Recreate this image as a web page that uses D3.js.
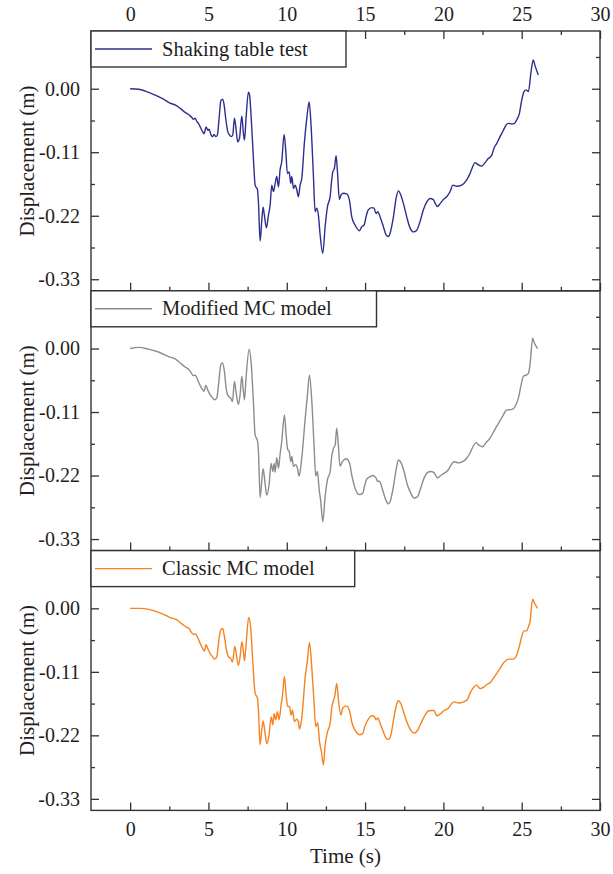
<!DOCTYPE html>
<html>
<head>
<meta charset="utf-8">
<script src="https://cdn.jsdelivr.net/npm/d3@7"></script>
<style>
  html, body { margin: 0; padding: 0; background: #fff; }
  svg { display: block; }
  text { font-family: "Liberation Serif", "DejaVu Serif", serif; fill: #1f1d1e; }
</style>
</head>
<body>
<svg id="chart" width="613" height="874"></svg>
<script>
// ---- data: displacement (m) against time (s) ----
const shakingT = [0, 0.53, 0.96, 1.6, 2.13, 2.55, 2.87, 3.19, 3.51, 3.83, 3.94, 4.04, 4.15, 4.26, 4.36, 4.47, 4.62, 4.72, 4.85, 4.96, 5.04, 5.15, 5.26, 5.36, 5.47, 5.57, 5.68, 5.79, 5.91, 6.0, 6.1, 6.23, 6.34, 6.45, 6.55, 6.66, 6.77, 6.87, 6.98, 7.13, 7.23, 7.3, 7.4, 7.55, 7.62, 7.72, 7.87, 7.98, 8.13, 8.19, 8.3, 8.4, 8.49, 8.57, 8.7, 8.83, 8.94, 9.04, 9.15, 9.26, 9.36, 9.47, 9.57, 9.68, 9.83, 9.94, 10.04, 10.15, 10.26, 10.32, 10.43, 10.53, 10.64, 10.74, 10.85, 10.96, 11.13, 11.28, 11.43, 11.55, 11.7, 11.81, 11.91, 12.02, 12.13, 12.3, 12.45, 12.6, 12.77, 12.87, 12.94, 13.04, 13.15, 13.23, 13.36, 13.47, 13.62, 13.83, 14.0, 14.15, 14.36, 14.64, 14.79, 14.94, 15.06, 15.2, 15.43, 15.57, 15.7, 15.81, 15.96, 16.17, 16.34, 16.49, 16.6, 16.81, 16.98, 17.13, 17.28, 17.45, 17.66, 17.87, 18.09, 18.3, 18.51, 18.72, 18.94, 19.15, 19.36, 19.47, 19.62, 19.79, 20.0, 20.21, 20.43, 20.6, 20.85, 21.17, 21.49, 21.7, 21.87, 22.02, 22.23, 22.45, 22.66, 22.87, 23.09, 23.23, 23.4, 23.62, 23.83, 24.0, 24.15, 24.36, 24.53, 24.68, 24.85, 25.0, 25.15, 25.28, 25.43, 25.6, 25.74, 25.85, 26.06];
const shakingV = [0, -0.001, -0.004, -0.011, -0.018, -0.025, -0.028, -0.034, -0.041, -0.047, -0.050, -0.053, -0.051, -0.057, -0.060, -0.066, -0.074, -0.078, -0.066, -0.072, -0.070, -0.079, -0.083, -0.079, -0.083, -0.080, -0.051, -0.021, -0.018, -0.028, -0.051, -0.074, -0.080, -0.083, -0.080, -0.051, -0.072, -0.092, -0.086, -0.047, -0.077, -0.089, -0.051, -0.006, -0.010, -0.046, -0.121, -0.167, -0.175, -0.196, -0.264, -0.230, -0.205, -0.219, -0.241, -0.219, -0.201, -0.167, -0.178, -0.164, -0.152, -0.170, -0.141, -0.126, -0.079, -0.109, -0.147, -0.144, -0.164, -0.152, -0.173, -0.167, -0.175, -0.187, -0.167, -0.155, -0.092, -0.051, -0.023, -0.063, -0.150, -0.213, -0.207, -0.219, -0.253, -0.285, -0.239, -0.204, -0.187, -0.158, -0.144, -0.138, -0.116, -0.141, -0.192, -0.184, -0.181, -0.182, -0.193, -0.222, -0.236, -0.246, -0.239, -0.236, -0.222, -0.210, -0.206, -0.207, -0.216, -0.213, -0.222, -0.239, -0.253, -0.256, -0.250, -0.222, -0.190, -0.177, -0.184, -0.199, -0.222, -0.241, -0.248, -0.245, -0.230, -0.210, -0.196, -0.190, -0.192, -0.198, -0.204, -0.199, -0.192, -0.187, -0.178, -0.167, -0.169, -0.167, -0.158, -0.147, -0.135, -0.128, -0.132, -0.134, -0.128, -0.121, -0.115, -0.103, -0.095, -0.083, -0.072, -0.063, -0.060, -0.061, -0.060, -0.054, -0.043, -0.020, -0.005, -0.002, -0.005, 0.030, 0.050, 0.040, 0.024];

const modifiedT = [0, 0.53, 1.17, 1.81, 2.45, 2.87, 3.19, 3.51, 3.77, 3.87, 4.04, 4.15, 4.26, 4.4, 4.57, 4.72, 4.83, 4.96, 5.1, 5.26, 5.38, 5.53, 5.64, 5.79, 5.89, 6.02, 6.13, 6.28, 6.43, 6.53, 6.66, 6.77, 6.91, 7.02, 7.13, 7.23, 7.3, 7.4, 7.6, 7.72, 7.87, 7.98, 8.13, 8.19, 8.3, 8.4, 8.49, 8.6, 8.72, 8.87, 9.0, 9.11, 9.19, 9.26, 9.36, 9.47, 9.57, 9.68, 9.85, 9.96, 10.06, 10.15, 10.26, 10.32, 10.43, 10.57, 10.68, 10.79, 10.91, 11.0, 11.17, 11.32, 11.45, 11.6, 11.74, 11.85, 11.96, 12.06, 12.17, 12.3, 12.45, 12.6, 12.77, 12.87, 12.98, 13.09, 13.19, 13.3, 13.4, 13.55, 13.79, 14.0, 14.17, 14.36, 14.64, 14.85, 14.96, 15.11, 15.32, 15.49, 15.7, 15.79, 15.91, 16.13, 16.32, 16.49, 16.6, 16.81, 16.98, 17.13, 17.3, 17.49, 17.7, 17.91, 18.13, 18.34, 18.55, 18.77, 18.98, 19.19, 19.4, 19.62, 19.83, 20.11, 20.32, 20.53, 20.68, 20.96, 21.23, 21.49, 21.7, 21.87, 22.09, 22.3, 22.51, 22.72, 22.98, 23.19, 23.4, 23.62, 23.83, 24.0, 24.21, 24.43, 24.64, 24.79, 24.94, 25.11, 25.28, 25.43, 25.53, 25.7, 25.8, 26.02];
const modifiedV = [0, 0.002, -0.001, -0.006, -0.014, -0.018, -0.025, -0.032, -0.037, -0.041, -0.047, -0.046, -0.051, -0.060, -0.069, -0.074, -0.064, -0.072, -0.080, -0.085, -0.089, -0.086, -0.063, -0.028, -0.025, -0.040, -0.069, -0.083, -0.086, -0.092, -0.057, -0.077, -0.097, -0.080, -0.048, -0.074, -0.089, -0.051, -0.001, -0.023, -0.092, -0.150, -0.160, -0.178, -0.258, -0.230, -0.208, -0.230, -0.254, -0.236, -0.199, -0.213, -0.199, -0.214, -0.189, -0.207, -0.184, -0.161, -0.115, -0.150, -0.175, -0.178, -0.196, -0.187, -0.204, -0.201, -0.207, -0.221, -0.201, -0.178, -0.123, -0.080, -0.046, -0.092, -0.167, -0.221, -0.213, -0.242, -0.265, -0.300, -0.256, -0.227, -0.213, -0.187, -0.173, -0.167, -0.138, -0.170, -0.204, -0.196, -0.191, -0.198, -0.222, -0.242, -0.253, -0.251, -0.239, -0.226, -0.222, -0.220, -0.224, -0.230, -0.230, -0.246, -0.262, -0.269, -0.265, -0.239, -0.210, -0.193, -0.198, -0.213, -0.236, -0.250, -0.259, -0.257, -0.242, -0.224, -0.215, -0.213, -0.215, -0.224, -0.220, -0.215, -0.210, -0.200, -0.196, -0.198, -0.196, -0.190, -0.181, -0.171, -0.163, -0.168, -0.170, -0.163, -0.155, -0.145, -0.135, -0.125, -0.115, -0.107, -0.106, -0.105, -0.097, -0.086, -0.066, -0.048, -0.046, -0.043, -0.028, 0.018, 0.010, 0.000];

const classicT = [0, 0.74, 1.38, 2.02, 2.55, 2.98, 3.3, 3.62, 3.77, 3.87, 4.04, 4.19, 4.32, 4.47, 4.62, 4.74, 4.85, 4.96, 5.1, 5.26, 5.38, 5.53, 5.64, 5.77, 5.91, 6.02, 6.13, 6.28, 6.43, 6.53, 6.68, 6.77, 6.91, 7.02, 7.13, 7.23, 7.3, 7.4, 7.57, 7.7, 7.83, 7.98, 8.13, 8.19, 8.3, 8.4, 8.49, 8.6, 8.72, 8.87, 9.0, 9.11, 9.19, 9.3, 9.4, 9.51, 9.64, 9.72, 9.85, 9.96, 10.06, 10.17, 10.28, 10.36, 10.49, 10.64, 10.74, 10.81, 10.91, 11.0, 11.17, 11.32, 11.45, 11.6, 11.74, 11.85, 11.98, 12.09, 12.21, 12.34, 12.45, 12.6, 12.77, 12.87, 12.98, 13.06, 13.19, 13.3, 13.45, 13.57, 13.79, 14.0, 14.17, 14.38, 14.64, 14.85, 14.98, 15.21, 15.43, 15.6, 15.7, 15.81, 15.96, 16.17, 16.34, 16.51, 16.64, 16.85, 16.98, 17.13, 17.3, 17.49, 17.7, 17.91, 18.13, 18.34, 18.55, 18.77, 18.98, 19.19, 19.4, 19.57, 19.79, 20.04, 20.32, 20.53, 20.68, 20.96, 21.28, 21.53, 21.7, 21.87, 22.13, 22.34, 22.55, 22.77, 22.98, 23.19, 23.4, 23.62, 23.83, 24.0, 24.21, 24.47, 24.68, 24.85, 25.0, 25.15, 25.32, 25.43, 25.53, 25.7, 25.8, 26.02];
const classicV = [0, 0, -0.003, -0.009, -0.016, -0.020, -0.027, -0.033, -0.035, -0.040, -0.045, -0.045, -0.051, -0.061, -0.069, -0.074, -0.063, -0.070, -0.078, -0.084, -0.088, -0.084, -0.061, -0.038, -0.035, -0.049, -0.069, -0.084, -0.087, -0.093, -0.066, -0.078, -0.099, -0.084, -0.058, -0.075, -0.091, -0.063, -0.016, -0.035, -0.092, -0.147, -0.156, -0.176, -0.236, -0.211, -0.195, -0.213, -0.234, -0.219, -0.188, -0.202, -0.182, -0.193, -0.179, -0.193, -0.167, -0.153, -0.118, -0.150, -0.170, -0.170, -0.185, -0.176, -0.196, -0.192, -0.196, -0.209, -0.199, -0.179, -0.121, -0.090, -0.059, -0.104, -0.162, -0.205, -0.198, -0.231, -0.248, -0.271, -0.237, -0.214, -0.199, -0.173, -0.159, -0.153, -0.130, -0.159, -0.185, -0.173, -0.169, -0.177, -0.199, -0.212, -0.219, -0.217, -0.205, -0.192, -0.186, -0.188, -0.193, -0.190, -0.199, -0.214, -0.225, -0.227, -0.220, -0.188, -0.170, -0.160, -0.166, -0.182, -0.199, -0.211, -0.216, -0.212, -0.200, -0.188, -0.179, -0.177, -0.177, -0.186, -0.183, -0.177, -0.173, -0.165, -0.162, -0.164, -0.162, -0.158, -0.147, -0.139, -0.133, -0.139, -0.137, -0.132, -0.129, -0.121, -0.113, -0.104, -0.095, -0.090, -0.088, -0.088, -0.081, -0.066, -0.049, -0.039, -0.039, -0.032, -0.023, 0.016, 0.010, 0.000];

const seriesNames = ["Shaking table test", "Modified MC model", "Classic MC model"];
const seriesColors = ["#2e2e8f", "#8c8c8c", "#f5831f"];
const xTicks = [0, 5, 10, 15, 20, 25, 30];
const xMinorTicks = [2.5, 7.5, 12.5, 17.5, 22.5, 27.5];
const yTicks = [0, -0.11, -0.22, -0.33];
const yMinorTicks = [0.055, -0.055, -0.165, -0.275];
const xTitle = "Time (s)";
const yTitle = "Displacement (m)";

// ---- layout ----
const svg = d3.select("#chart");
const plotLeft = 91, plotRight = 600, plotTop = 31, panelH = 259.8;
const FONT = 20;

const x = d3.scaleLinear().domain([-2.5, 30]).range([plotLeft, plotRight]);

const panels = [
  { t: shakingT, v: shakingV, legendW: 255 },
  { t: modifiedT, v: modifiedV, legendW: 285.5 },
  { t: classicT, v: classicV, legendW: 263.7 }
];

const fmt = d => (Math.abs(d) < 1e-9 ? 0 : d).toFixed(2);

panels.forEach((p, i) => {
  const y0 = plotTop + i * panelH;
  const y = d3.scaleLinear().domain([-0.35, 0.10]).range([y0 + panelH, y0]);
  const g = svg.append("g");

  // data line, smoothed between samples without overshooting the extrema
  const pts = p.t.map((t, k) => [t, p.v[k]]);
  g.append("path")
    .datum(pts)
    .attr("fill", "none")
    .attr("stroke", seriesColors[i])
    .attr("stroke-width", 1.4)
    .attr("stroke-linejoin", "round")
    .attr("d", d3.line().curve(d3.curveMonotoneX).x(d => x(d[0])).y(d => y(d[1])));

  // y axes (inward ticks), labels on the left only
  g.append("g").attr("transform", `translate(${plotLeft},0)`)
    .call(d3.axisLeft(y).tickValues(yTicks).tickSize(-8).tickPadding(11).tickFormat(fmt));
  g.append("g").attr("transform", `translate(${plotLeft},0)`)
    .call(d3.axisLeft(y).tickValues(yMinorTicks).tickSize(-4).tickFormat(""));
  g.append("g").attr("transform", `translate(${plotRight},0)`)
    .call(d3.axisRight(y).tickValues(yTicks).tickSize(-8).tickFormat(""));
  g.append("g").attr("transform", `translate(${plotRight},0)`)
    .call(d3.axisRight(y).tickValues(yMinorTicks).tickSize(-4).tickFormat(""));

  // bottom x ticks in every panel; labels only for the last one
  const last = i === panels.length - 1;
  g.append("g").attr("transform", `translate(0,${y0 + panelH})`)
    .call(d3.axisBottom(x).tickValues(xTicks).tickSize(-8).tickPadding(11)
      .tickFormat(last ? d3.format("d") : ""));
  g.append("g").attr("transform", `translate(0,${y0 + panelH})`)
    .call(d3.axisBottom(x).tickValues(xMinorTicks).tickSize(-4).tickFormat(""));

  // top x axis on the first panel
  if (i === 0) {
    g.append("g").attr("transform", `translate(0,${y0})`)
      .call(d3.axisTop(x).tickValues(xTicks).tickSize(-8).tickPadding(10).tickFormat(d3.format("d")));
    g.append("g").attr("transform", `translate(0,${y0})`)
      .call(d3.axisTop(x).tickValues(xMinorTicks).tickSize(-4).tickFormat(""));
  }

  g.selectAll(".domain").remove();
  g.selectAll(".tick line").attr("stroke", "#333").attr("stroke-width", 1.3);
  g.selectAll(".tick text").attr("font-size", FONT).attr("fill", "#1f1d1e")
    .attr("font-family", "'Liberation Serif', 'DejaVu Serif', serif");

  // frame
  g.append("rect")
    .attr("x", plotLeft).attr("y", y0)
    .attr("width", plotRight - plotLeft).attr("height", panelH)
    .attr("fill", "none").attr("stroke", "#333").attr("stroke-width", 1.4);

  // legend box
  const lh = 36;
  g.append("rect")
    .attr("x", plotLeft).attr("y", y0)
    .attr("width", p.legendW).attr("height", lh)
    .attr("fill", "#fff").attr("stroke", "#333").attr("stroke-width", 1.4);
  g.append("line")
    .attr("x1", plotLeft + 4).attr("x2", plotLeft + 61)
    .attr("y1", y0 + lh / 2).attr("y2", y0 + lh / 2)
    .attr("stroke", seriesColors[i]).attr("stroke-width", 1.4);
  g.append("text")
    .attr("x", plotLeft + 71).attr("y", y0 + lh / 2 + 6.5)
    .attr("font-size", 20.5)
    .text(seriesNames[i]);

  // y title
  g.append("text")
    .attr("transform", `translate(34,${y0 + panelH / 2}) rotate(-90)`)
    .attr("text-anchor", "middle")
    .attr("font-size", 21)
    .text(yTitle);
});

// x title
svg.append("text")
  .attr("x", (plotLeft + plotRight) / 2)
  .attr("y", 863)
  .attr("text-anchor", "middle")
  .attr("font-size", 21)
  .text(xTitle);
</script>
</body>
</html>
